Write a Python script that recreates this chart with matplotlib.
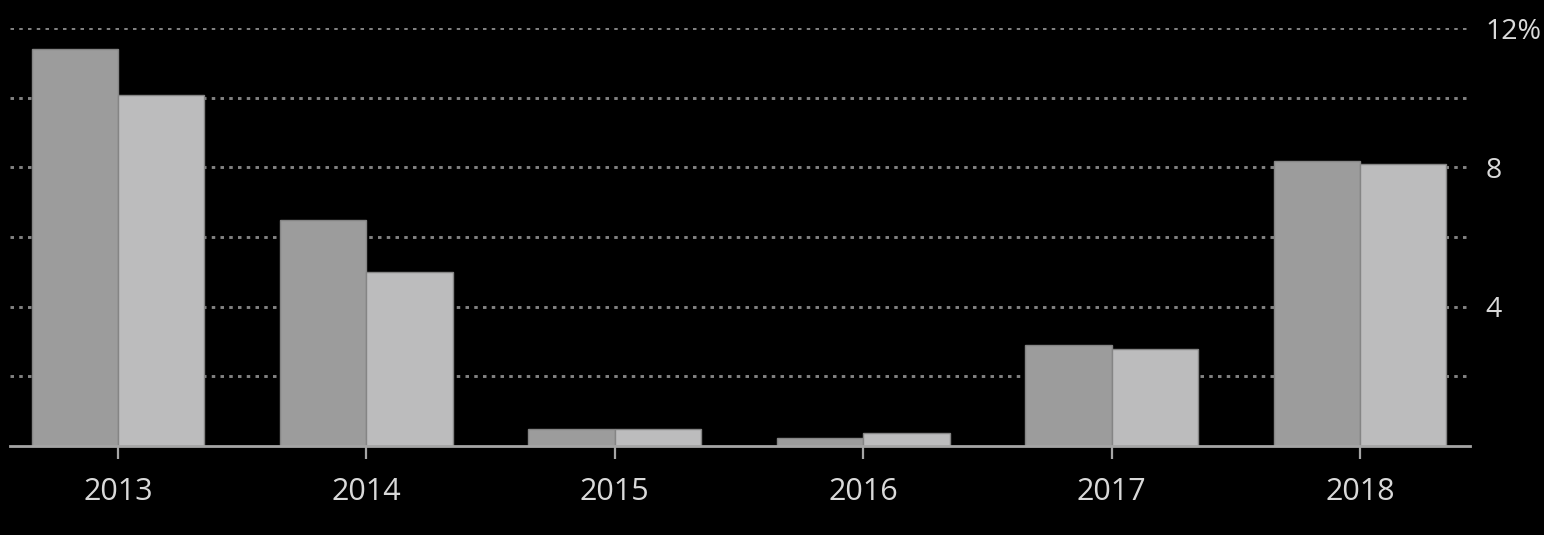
import matplotlib
matplotlib.use("Agg")
import matplotlib.pyplot as plt
import numpy as np

years = ["2013", "2014", "2015", "2016", "2017", "2018"]
series_a = [11.4, 6.5, 0.49, 0.23, 2.9, 8.18]
series_b = [10.08, 5.0, 0.49, 0.37, 2.78, 8.1]
ytick_vals = [4, 8, 12]
ytick_labels = ["4", "8", "12%"]
grid_vals = [2, 4, 6, 8, 10, 12]

plt.rcParams['font.family'] = ['Open Sans', 'DejaVu Sans']

fig = plt.figure(figsize=(15.44, 5.35), dpi=100, facecolor='black')
ax = fig.add_axes([10/1544, (535-446)/535, 1460/1544, 418/535])
ax.set_facecolor('black')

x = np.arange(len(years))
w = 0.348
for g in grid_vals:
    ax.axhline(g, color='#828282', lw=2.1, linestyle=(0, (1.2, 1.8)), zorder=1)

ax.bar(x - w/2, series_a, width=w, color='#9c9c9c', edgecolor='#858585', linewidth=1, zorder=2)
ax.bar(x + w/2, series_b, width=w, color='#bcbcbd', edgecolor='#858585', linewidth=1, zorder=2)

ax.set_xlim(-0.435, 5.443)
ax.set_ylim(0, 12)

for s in ['top', 'left', 'right']:
    ax.spines[s].set_visible(False)
ax.spines['bottom'].set_color('#a5a5a5')
ax.spines['bottom'].set_linewidth(2)
ax.spines['bottom'].set_zorder(3)

ax.set_xticks(x)
ax.set_xticklabels(years)
ax.tick_params(axis='x', colors='#a5a5a5', length=9.5, width=1.6, direction='out', pad=12.5,
               labelsize=22, labelcolor='#d9d9d9')

ax.yaxis.tick_right()
ax.set_yticks(ytick_vals)
ax.set_yticklabels(ytick_labels)
ax.tick_params(axis='y', length=0, pad=11, labelsize=20.5, labelcolor='#d9d9d9')

fig.savefig('out.png', dpi=100, facecolor='black')
